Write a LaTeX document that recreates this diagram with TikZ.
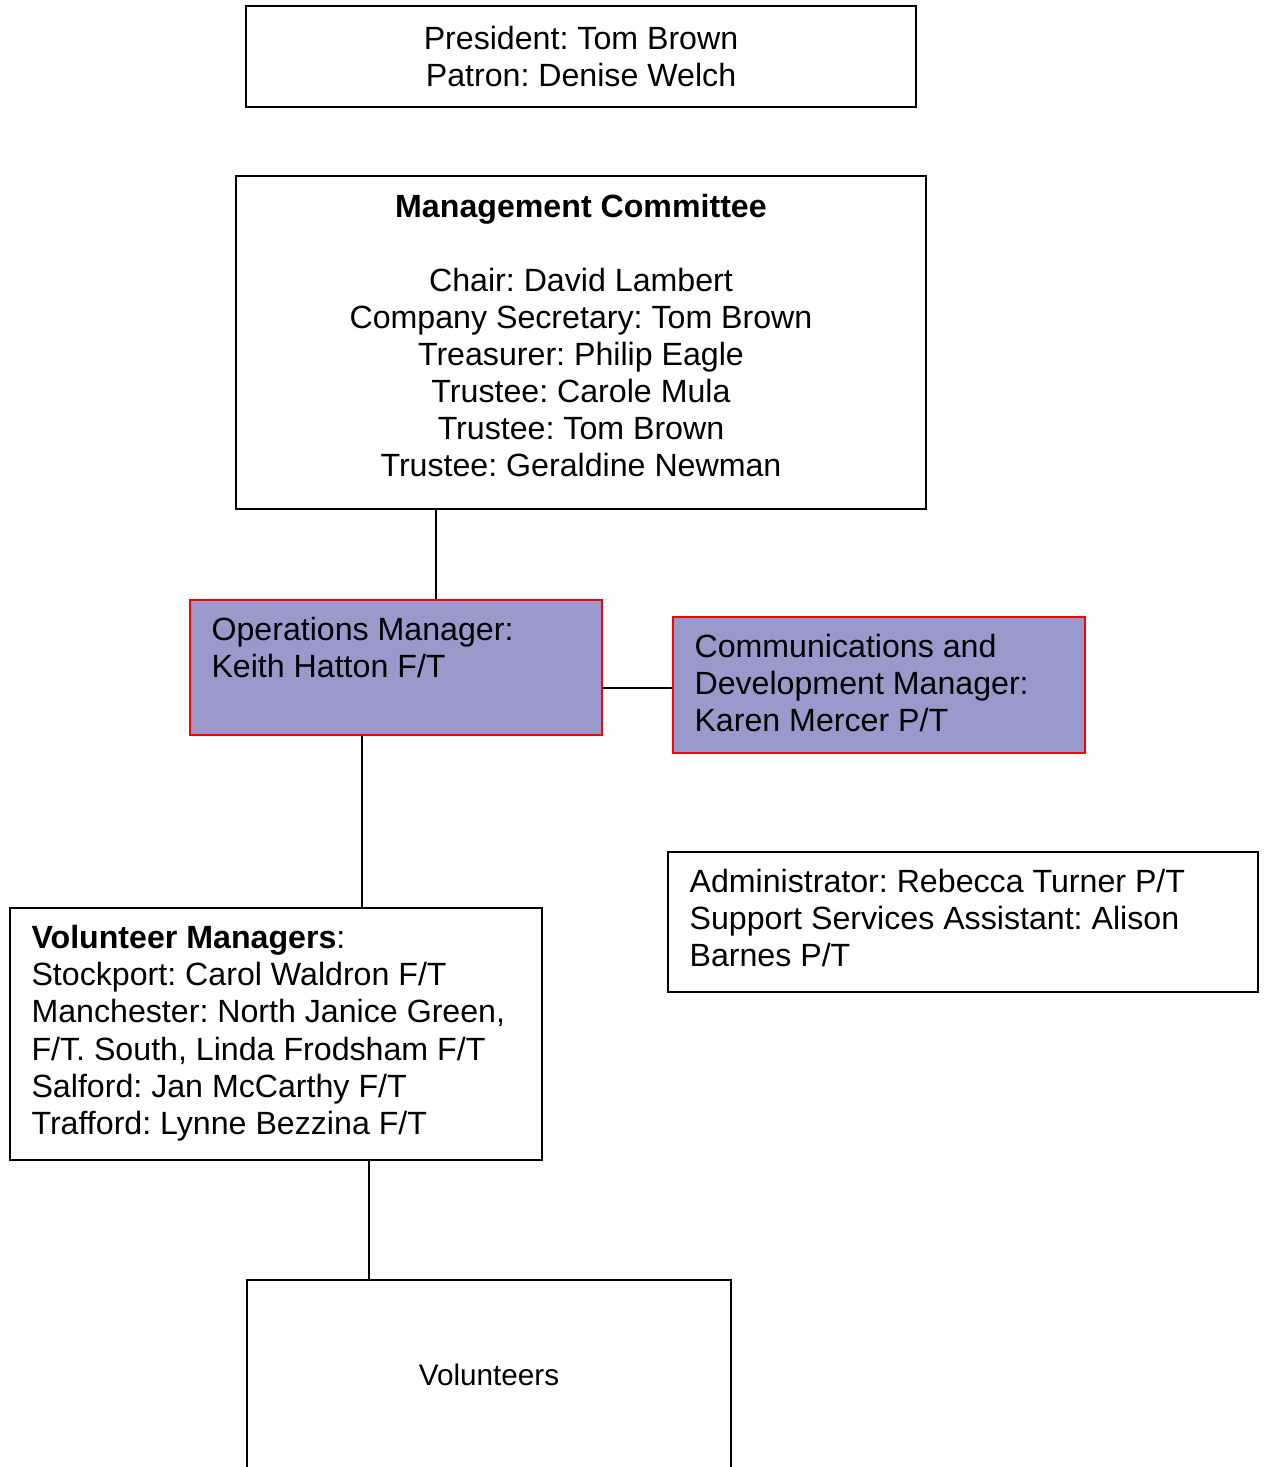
\documentclass[tikz,border=0pt]{standalone}
\usepackage{fontspec}
\setmainfont{Liberation Sans}
\frenchspacing
\definecolor{staffblue}{RGB}{153,153,204}
\begin{document}
\begin{tikzpicture}[x=0.02cm,y=-0.02cm,line width=0.9pt,
    font=\fontsize{18.3}{21.1}\selectfont,
    box/.style={draw,inner sep=0pt,align=center},
    staff/.style={box,draw=red,fill=staffblue},
    txt/.style={anchor=north west,inner sep=0pt,align=left}]
  \useasboundingbox (0,0) rectangle (1264,1467);
  \node[box,minimum width=13.4cm,minimum height=2.02cm] (pres) at (581,56.5)
    {President: Tom Brown\\Patron: Denise Welch};
  \node[box,minimum width=13.8cm,minimum height=6.66cm] (mc) at (581,342.5) {};
  \node[staff,minimum width=8.24cm,minimum height=2.7cm] (ops) at (396,667.5) {};
  \node[staff,minimum width=8.24cm,minimum height=2.72cm] (comm) at (879,685) {};
  \node[box,minimum width=11.8cm,minimum height=2.8cm] (admin) at (963,922) {};
  \node[box,minimum width=10.64cm,minimum height=5.04cm] (vm) at (276,1034) {};
  \node[box,minimum width=9.68cm,minimum height=3.8cm,font=\fontsize{16.9}{19.5}\selectfont] (vol) at (489,1375) {Volunteers};
  % texts in the boxes
  \node[txt,anchor=north,align=center] (mct) at ([yshift=-0.36cm]mc.north)
    {\textbf{Management Committee}\\[21.1pt]Chair: David Lambert\\Company Secretary: Tom Brown\\
     Treasurer: Philip Eagle\\Trustee: Carole Mula\\Trustee: Tom Brown\\Trustee: Geraldine Newman};
  \node[txt] (opst) at ([shift={(0.43cm,-0.35cm)}]ops.north west)
    {Operations Manager:\\Keith Hatton F/T};
  \node[txt] (commt) at ([shift={(0.43cm,-0.35cm)}]comm.north west)
    {Communications and\\Development Manager:\\Karen Mercer P/T};
  \node[txt] (admint) at ([shift={(0.43cm,-0.35cm)}]admin.north west)
    {Administrator: Rebecca Turner P/T\\Support Services Assistant: Alison\\Barnes P/T};
  \node[txt] (vmt) at ([shift={(0.43cm,-0.35cm)}]vm.north west)
    {\textbf{Volunteer Managers}:\\Stockport: Carol Waldron F/T\\Manchester: North Janice Green,\\
     F/T. South, Linda Frodsham F/T\\Salford: Jan McCarthy F/T\\Trafford: Lynne Bezzina F/T};
  % lines
  \draw ([xshift=0.8cm]ops.north) -- ([xshift=0.8cm]ops.north |- mc.south);
  \draw ([yshift=-0.06cm]ops.east |- comm.west) -- ([yshift=-0.06cm]comm.west);
  \draw ([xshift=-0.68cm]ops.south) -- ([xshift=-0.68cm]ops.south |- vm.north);
  \draw ([xshift=1.86cm]vm.south) -- ([xshift=1.86cm]vm.south |- vol.north);
\end{tikzpicture}
\end{document}
